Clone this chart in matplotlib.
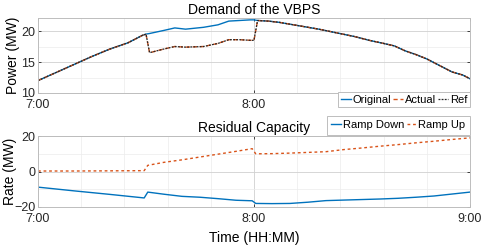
import matplotlib
matplotlib.use("Agg")
import matplotlib.pyplot as plt
from matplotlib.ticker import MultipleLocator, FixedLocator

plt.rcParams['font.family'] = ['Liberation Sans', 'DejaVu Sans']

# minutes after 7:00
t_power = [0, 5, 10, 15, 20, 25, 29, 30, 31, 35, 38, 41, 46, 50, 53, 56, 59, 60, 61,
           64, 67, 70, 74, 78, 83, 88, 92, 96, 99, 102, 105, 108, 111, 113, 115, 118, 120]
original = [12.0, 13.3, 14.6, 15.9, 17.1, 18.1, 19.3, 19.5, 19.6, 20.1, 20.5, 20.3, 20.6, 21.0,
            21.6, 21.7, 21.8, 21.8, 21.7,
            21.6, 21.4, 21.1, 20.7, 20.3, 19.7, 19.1, 18.5, 18.0, 17.6, 16.8, 16.2, 15.5, 14.6,
            14.0, 13.4, 12.9, 12.3]
ref = [12.0, 13.3, 14.6, 15.9, 17.1, 18.1, 19.3, 19.5, 16.5, 17.1, 17.5, 17.4, 17.5, 18.0,
       18.6, 18.6, 18.5, 18.5, 21.7,
       21.6, 21.4, 21.1, 20.7, 20.3, 19.7, 19.1, 18.5, 18.0, 17.6, 16.8, 16.2, 15.5, 14.6,
       14.0, 13.4, 12.9, 12.3]
actual = list(ref)

t_rate = [0, 10, 20, 29.5, 30.5, 35, 40, 45, 50, 55, 59.5, 60.5, 65, 70, 75, 80, 85, 90,
          95, 100, 105, 110, 115, 120]
ramp_down = [-8.8, -10.9, -12.9, -14.9, -11.6, -12.8, -14.0, -14.5, -15.3, -16.2, -16.5,
             -18.0, -18.1, -18.0, -17.3, -16.4, -16.1, -15.8, -15.5, -15.1, -14.5, -13.8,
             -12.7, -11.6]
ramp_up = [0.3, 0.3, 0.4, 0.5, 3.5, 5.2, 6.6, 8.2, 9.8, 11.4, 12.9, 10.0, 10.1, 10.4, 10.8,
           11.2, 12.4, 13.3, 14.3, 15.2, 16.2, 17.1, 18.1, 19.0]

x_ticks = [0, 60, 120]
x_labels = ['7:00', '8:00', '9:00']

blue = '#0072BD'
red = '#D95319'

fig = plt.figure(figsize=(4.84, 2.47), dpi=100)
ax1 = fig.add_axes([0.0785, 0.6235, 0.8925, 0.3036])
ax2 = fig.add_axes([0.0785, 0.162, 0.8925, 0.287])

def style(ax, labels):
    ax.set_xlim(0, 120)
    ax.set_xticks(x_ticks)
    ax.set_xticklabels(labels)
    ax.xaxis.set_minor_locator(MultipleLocator(12))
    ax.tick_params(which='both', direction='in', top=True, right=True, labelsize=9,
                   length=2.5, width=0.6, colors='#262626', pad=2)
    ax.tick_params(axis='x', pad=4)
    ax.tick_params(which='minor', length=0)
    ax.grid(True, which='major', color='#d0d0d0', linewidth=0.6)
    ax.grid(True, which='minor', color='#ececec', linewidth=0.5)
    ax.set_axisbelow(True)
    for s in ax.spines.values():
        s.set_color('#bdbdbd')
        s.set_linewidth(0.7)

ax1.plot(t_power, original, color=blue, lw=1.0, label='Original')
ax1.plot(t_power, actual, color=red, lw=1.0, ls=(0, (3, 2)), label='Actual')
ax1.plot(t_power, ref, color='#262626', lw=0.9, ls=(0, (1.5, 1)), label='Ref')
# the 9:00 label of the upper panel sits under the legend in the reference
style(ax1, x_labels[:2] + [''])
ax1.set_ylim(10, 22.1)
ax1.set_yticks([10, 15, 20])
ax1.yaxis.set_minor_locator(FixedLocator([12.5, 17.5]))
ax1.set_ylabel('Power (MW)', fontsize=10, labelpad=1)
ax1.set_title('Demand of the VBPS', fontsize=10, pad=3)

ax2.plot(t_rate, ramp_down, color=blue, lw=1.0, label='Ramp Down')
ax2.plot(t_rate, ramp_up, color=red, lw=1.0, ls=(0, (2, 2)), label='Ramp Up')
style(ax2, x_labels)
ax2.set_ylim(-20, 20)
ax2.set_yticks([-20, 0, 20])
ax2.yaxis.set_minor_locator(FixedLocator([-10, 10]))
ax2.set_ylabel('Rate (MW)', fontsize=10, labelpad=-2)
ax2.set_xlabel('Time (HH:MM)', fontsize=10, labelpad=5)
ax2.set_title('Residual Capacity', fontsize=10, pad=3)

leg_kw = dict(ncol=3, fontsize=8, handlelength=0.9, handletextpad=0.15, columnspacing=0.2,
              borderpad=0.25, borderaxespad=0, fancybox=False, framealpha=1)
l1 = fig.legend(handles=ax1.get_lines(), loc='upper right', bbox_to_anchor=(0.971, 0.628),
                **leg_kw)
l1.get_frame().set_edgecolor('#bdbdbd')
l1.get_frame().set_linewidth(0.7)
leg_kw['borderpad'] = 0.4
l2 = fig.legend(handles=ax2.get_lines(), loc='upper right', bbox_to_anchor=(0.971, 0.531),
                **leg_kw)
l2.get_frame().set_edgecolor('#bdbdbd')
l2.get_frame().set_linewidth(0.7)

fig.savefig('out.png', dpi=100)
